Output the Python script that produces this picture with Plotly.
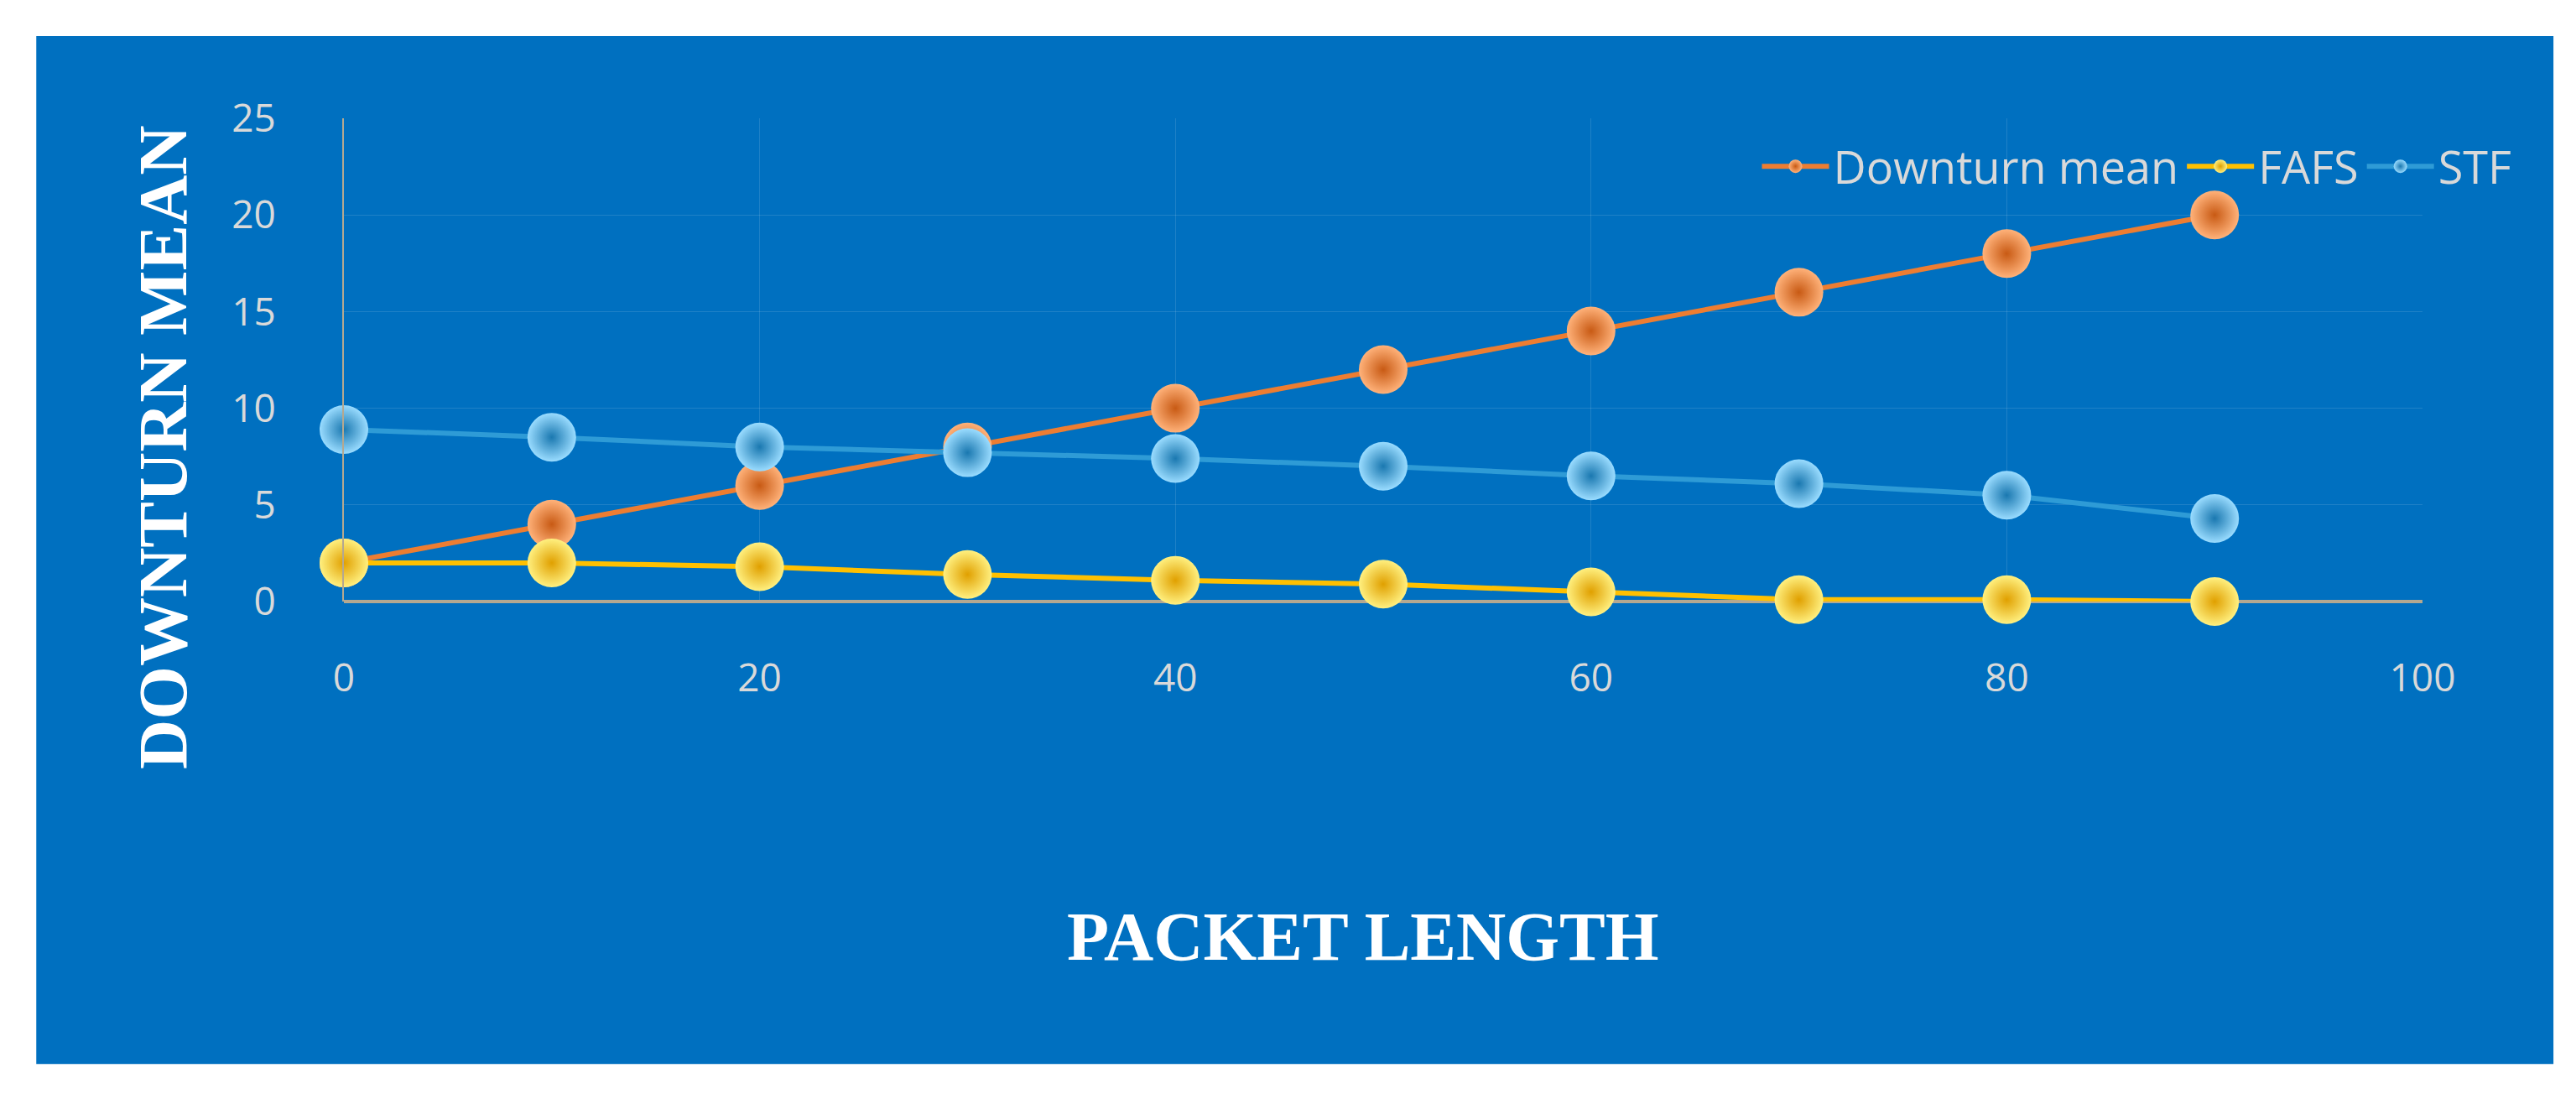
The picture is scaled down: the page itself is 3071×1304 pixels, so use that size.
import plotly.graph_objects as go

packet_length = [0, 10, 20, 30, 40, 50, 60, 70, 80, 90]
downturn_mean = [2, 4, 6, 8, 10, 12, 14, 16, 18, 20]
fafs = [2, 2, 1.8, 1.4, 1.1, 0.9, 0.5, 0.1, 0.1, 0]
stf = [8.9, 8.5, 8, 7.7, 7.4, 7, 6.5, 6.1, 5.5, 4.3]

BLUE = "#0070C0"
series = [
    ("Downturn mean", downturn_mean, "#ED7D31", "#C85A14", "#FFB27A"),
    ("FAFS", fafs, "#FFC000", "#E0A000", "#FFF080"),
    ("STF", stf, "#2E9BD6", "#1A78B0", "#9ADCFF"),
]

fig = go.Figure()
for name, ys, col, dark, light in series:
    fig.add_trace(go.Scatter(
        x=packet_length, y=ys, name=name, mode="lines+markers",
        line=dict(color=col, width=6),
        marker=dict(size=58, color=light, line=dict(width=0),
                    gradient=dict(type="radial", color=dark)),
        cliponaxis=False,
    ))

fig.add_shape(type="rect", xref="paper", yref="paper",
              x0=-0.148, x1=1.063, y0=-0.957, y1=1.170,
              fillcolor=BLUE, line=dict(width=0), layer="below")

tickfont = dict(family="Open Sans", size=46, color="#D9D9D9")
titlefont = dict(family="Liberation Serif", size=82, color="white")

fig.add_annotation(text="<b>PACKET LENGTH</b>", xref="paper", yref="paper",
                   x=(1617 - 402) / 2478, y=(709 - 1108) / 576, showarrow=False,
                   xanchor="center", yanchor="middle", font=titlefont)
fig.add_annotation(text="<b>DOWNTURN MEAN</b>", xref="paper", yref="paper",
                   x=(186 - 402) / 2478, y=(709 - 525) / 576, showarrow=False,
                   textangle=-90, xanchor="center", yanchor="middle", font=titlefont)

fig.update_layout(
    width=3071, height=1304,
    margin=dict(l=402, r=191, t=133, b=595),
    paper_bgcolor="white", plot_bgcolor=BLUE,
    showlegend=True,
    legend=dict(orientation="h", x=1.045, xanchor="right", y=0.9, yanchor="middle",
                bgcolor="rgba(0,0,0,0)", font=dict(family="Open Sans", size=54, color="#D9D9D9"),
                itemwidth=80),
    xaxis=dict(range=[0, 100], dtick=20, tickfont=tickfont, ticklabelstandoff=60,
               showgrid=True, gridcolor="rgba(255,255,255,0.12)", zeroline=False,
               showline=False),
    yaxis=dict(range=[0, 25], dtick=5, tickfont=tickfont, ticklabelstandoff=70,
               showgrid=True, gridcolor="rgba(255,255,255,0.12)",
               zeroline=True, zerolinecolor="#B4A890", zerolinewidth=4,
               showline=True, linecolor="#B4A890", linewidth=2),
)
fig.write_html("out.html")
